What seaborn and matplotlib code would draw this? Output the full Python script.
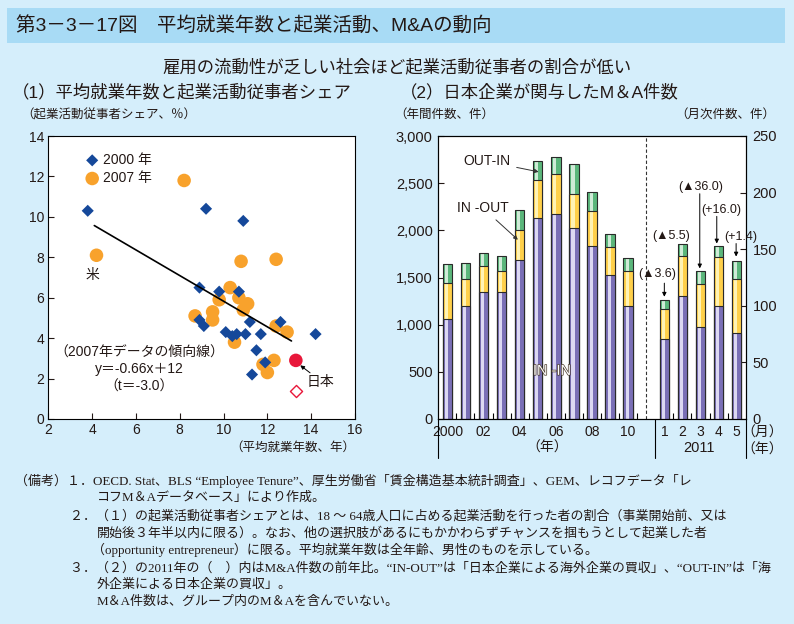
import numpy as np
import matplotlib
matplotlib.use('Agg')
import matplotlib.pyplot as plt
import matplotlib.patheffects as pe
import matplotlib.transforms as mtrans
from matplotlib.patches import Rectangle
from matplotlib.ticker import FuncFormatter
import seaborn as sns

# (1) average tenure (years) vs share of entrepreneurs (%)
tenure_2000 = [3.8, 9.2, 10.9, 8.9, 9.8, 10.7, 8.9, 9.1, 10.1, 10.4, 10.6, 11.0, 11.2, 11.7, 12.6, 14.2, 11.5, 11.9, 11.3]
share_2000 = [10.3, 10.4, 9.8, 6.5, 6.3, 6.3, 4.9, 4.6, 4.3, 4.1, 4.2, 4.2, 4.8, 4.2, 4.8, 4.2, 3.4, 2.8, 2.2]
tenure_2007 = [8.2, 4.2, 10.8, 12.4, 10.3, 9.8, 10.7, 11.1, 10.9, 9.5, 9.5, 8.7, 10.5, 12.4, 12.9, 12.3, 11.8, 12.0]
share_2007 = [11.8, 8.1, 7.8, 7.9, 6.5, 5.9, 6.0, 5.7, 5.4, 5.3, 4.9, 5.1, 3.8, 4.6, 4.3, 2.9, 2.7, 2.3]
japan_tenure = [13.3]
japan_share_2000 = [1.4]
japan_share_2007 = [2.9]
trend_x = [4.1, 13.1]
trend_y = [9.57, 3.86]

# (2) M&A deals involving japanese firms
years = list(range(2000, 2011))
annual_in_in = [1063, 1195, 1347, 1350, 1684, 2128, 2178, 2022, 1832, 1525, 1197]
annual_in_out = [377, 287, 273, 217, 317, 410, 416, 367, 370, 296, 370]
annual_out_in = [201, 170, 138, 163, 216, 194, 180, 311, 202, 138, 138]
months = [1, 2, 3, 4, 5]
monthly_in_in = [71, 109, 81, 100, 76]
monthly_in_out = [26, 35, 38, 43, 48]
monthly_out_in = [8, 11, 12, 10, 16]
monthly_change = ['(▲3.6)', '(▲5.5)', '(▲36.0)', '(+16.0)', '(+1.4)']

notes = [
    (15, 481, '（備考）１．OECD. Stat、BLS “Employee Tenure”、厚生労働省「賃金構造基本統計調査」、GEM、レコフデータ「レ'),
    (97, 498, 'コフM＆Aデータベース」により作成。'),
    (70, 516, '２．（１）の起業活動従事者シェアとは、18 ～ 64歳人口に占める起業活動を行った者の割合（事業開始前、又は'),
    (97, 533, '開始後３年半以内に限る）。なお、他の選択肢があるにもかかわらずチャンスを掴もうとして起業した者'),
    (92, 550, '（opportunity entrepreneur）に限る。平均就業年数は全年齢、男性のものを示している。'),
    (70, 568, '３．（２）の2011年の（　）内はM&A件数の前年比。“IN-OUT”は「日本企業による海外企業の買収」、“OUT-IN”は「海'),
    (97, 585, '外企業による日本企業の買収」。'),
    (97, 602, 'M＆A件数は、グループ内のM＆Aを含んでいない。'),
]

sns.set_theme(style='ticks')
plt.rcParams['font.family'] = ['Liberation Sans', 'Noto Sans CJK JP', 'DejaVu Sans']
ink = '#231815'
bg = '#D5EEFB'

W, H = 794, 624
def fx(px):
    return px / W
def fy(py):
    return 1 - py / H

fig = plt.figure(figsize=(7.94, 6.24), dpi=100, facecolor=bg)

# title band and headings
fig.patches.append(Rectangle((fx(7), fy(43)), fx(778), 35 / H, transform=fig.transFigure,
                             facecolor='#A8DBF5', edgecolor='none', zorder=0))
fig.text(fx(16), fy(25), '第3－3－17図　平均就業年数と起業活動、M&Aの動向', fontsize=14, color=ink, va='center')
fig.text(0.5, fy(67), '雇用の流動性が乏しい社会ほど起業活動従事者の割合が低い', fontsize=12.5, color=ink,
         ha='center', va='center')
fig.text(fx(12), fy(92), '（1）平均就業年数と起業活動従事者シェア', fontsize=12.5, color=ink, va='center')
fig.text(fx(400), fy(92), '（2）日本企業が関与したM＆A件数', fontsize=12.5, color=ink, va='center')

# ---------------- (1) scatter ----------------
ax1 = fig.add_axes([fx(48.3), fy(419), (355 - 48.3) / W, (419 - 136) / H])
ax1.set_facecolor('white')
sns.scatterplot(x=tenure_2007, y=share_2007, marker='o', s=95, color='#F8A22C', edgecolor='none',
                label='2007 年', ax=ax1, zorder=3)
sns.scatterplot(x=tenure_2000, y=share_2000, marker='D', s=38, color='#15489A', edgecolor='none',
                label='2000 年', ax=ax1, zorder=4)
sns.scatterplot(x=japan_tenure, y=japan_share_2007, marker='o', s=95, color='#E8173A', edgecolor='none',
                ax=ax1, zorder=4)
sns.scatterplot(x=japan_tenure, y=japan_share_2000, marker='D', s=38, color='white', edgecolor='#E8173A',
                linewidth=1, ax=ax1, zorder=4)
sns.lineplot(x=trend_x, y=trend_y, color='black', lw=1.2, ax=ax1, zorder=5)

ax1.set_xlim(2, 16)
ax1.set_ylim(0, 14)
ax1.set_xticks(range(2, 17, 2))
ax1.set_yticks(range(0, 15, 2))
ax1.tick_params(direction='in', length=4, width=0.8, labelsize=10, colors=ink, pad=3)
for sp in ax1.spines.values():
    sp.set_color('black')
    sp.set_linewidth(0.8)

h, l = ax1.get_legend_handles_labels()
leg = ax1.legend([h[1], h[0]], [l[1], l[0]], loc='upper left', bbox_to_anchor=(0.125, 0.94),
                 frameon=False, fontsize=10, handlelength=0.8, handletextpad=0.35,
                 labelspacing=0.3, borderpad=0, borderaxespad=0)
for t in leg.get_texts():
    t.set_color(ink)

ax1.text(4.0, 7.1, '米', fontsize=10, color=ink, ha='center', va='center')
ax1.text(6.14, 3.30, '（2007年データの傾向線）', fontsize=10, color=ink, ha='center', va='center')
ax1.text(6.14, 2.46, 'y＝-0.66x＋12', fontsize=10, color=ink, ha='center', va='center')
ax1.text(6.14, 1.60, '（t＝-3.0）', fontsize=10, color=ink, ha='center', va='center')
ax1.annotate('', xy=(13.4, 2.74), xytext=(14.05, 2.2),
             arrowprops=dict(arrowstyle='-|>', color='black', lw=0.7, mutation_scale=6))
ax1.text(14.4, 1.82, '日本', fontsize=10, color=ink, ha='center', va='center')

fig.text(fx(109), fy(115), '（起業活動従事者シェア、％）', fontsize=9, color=ink, ha='center', va='center')
fig.text(fx(293), fy(448), '（平均就業年数、年）', fontsize=9, color=ink, ha='center', va='center')

# ---------------- (2) stacked bars ----------------
ax2 = fig.add_axes([fx(438.3), fy(419), (745.7 - 438.3) / W, (419 - 136) / H])
ax2.set_facecolor('white')
ax2r = ax2.twinx()

purple, purple_l = '#7A6FB6', '#DCD8F2'
yellow, yellow_l = '#FFD04A', '#FFF3B5'
green, green_l = '#5BB67B', '#CFEBD7'


def draw_stack(ax, pos, in_in, in_out, out_in):
    in_in = np.asarray(in_in)
    mid = in_in + np.asarray(in_out)
    top = mid + np.asarray(out_in)
    for h_, face, light in [(top, green, green_l), (mid, yellow, yellow_l), (in_in, purple, purple_l)]:
        sns.barplot(x=pos, y=h_, native_scale=True, width=0.52, color=face, saturation=1,
                    linewidth=0, errorbar=None, ax=ax)
        sns.barplot(x=pos - 0.05, y=h_, native_scale=True, width=0.17, color=light, saturation=1,
                    linewidth=0, errorbar=None, ax=ax)
        sns.barplot(x=pos, y=h_, native_scale=True, width=0.52, color='#2A2A2A', fill=False,
                    linewidth=0.8, errorbar=None, ax=ax)


annual_pos = np.arange(len(years), dtype=float)
month_pos = len(years) + 1 + np.arange(len(months), dtype=float)
draw_stack(ax2, annual_pos, annual_in_in, annual_in_out, annual_out_in)
draw_stack(ax2r, month_pos, monthly_in_in, monthly_in_out, monthly_out_in)

ax2.axvline(len(years), color='#333333', ls=(0, (3, 2)), lw=0.8)

xlim = (-0.5, month_pos[-1] + 0.5)
ax2.set_xlim(*xlim)
ax2r.set_xlim(*xlim)
ax2.set_ylim(0, 3000)
ax2r.set_ylim(0, 250)
ax2.set_yticks(range(0, 3001, 500))
ax2r.set_yticks(range(0, 251, 50))
ax2.yaxis.set_major_formatter(FuncFormatter(lambda v, p: f'{int(v):,}'))
ax2.set_ylabel('')
ax2r.set_ylabel('')
ax2.set_xlabel('')
ax2r.set_xlabel('')

year_ticks = [p for p, y in zip(annual_pos, years) if y % 2 == 0]
year_labels = ['2000' if y == 2000 else f'{y % 100:02d}' for y in years if y % 2 == 0]
ax2.set_xticks(list(year_ticks) + list(month_pos))
ax2.set_xticklabels(year_labels + [str(m) for m in months])
minor = list(annual_pos + 0.5) + list(month_pos[:-1] + 0.5)
ax2.set_xticks(minor, minor=True)
ax2.tick_params(axis='x', which='major', length=0, labelsize=10, colors=ink, pad=4)
ax2.tick_params(axis='x', which='minor', direction='in', length=4, width=0.8, color='black')
ax2.tick_params(axis='y', direction='in', length=4, width=0.8, labelsize=10.5, colors=ink, pad=4)
ax2r.tick_params(axis='y', direction='in', length=4, width=0.8, labelsize=10.5, colors=ink, pad=5)
for a in (ax2, ax2r):
    for sp in a.spines.values():
        sp.set_color('black')
        sp.set_linewidth(0.8)

# lines that run below the axis to split the year and month parts
trans = mtrans.blended_transform_factory(ax2.transData, ax2.transAxes)
for xv in (xlim[0], len(years) + 0.5, xlim[1]):
    ax2.plot([xv, xv], [0, -0.138], transform=trans, clip_on=False, color='black', lw=0.8)

ax2.annotate('OUT-IN', xy=(5.05, 2620), xytext=(2.2, 2730), fontsize=10, color=ink, ha='center', va='center',
             arrowprops=dict(arrowstyle='-|>', color='#333333', lw=0.7, mutation_scale=6, shrinkA=2, shrinkB=0))
ax2.annotate('IN -OUT', xy=(3.9, 1900), xytext=(1.95, 2240), fontsize=10, color=ink, ha='center', va='center',
             arrowprops=dict(arrowstyle='-|>', color='#333333', lw=0.7, mutation_scale=6, shrinkA=2, shrinkB=0))
ax2.text(5.8, 510, 'IN -IN', fontsize=10.5, color='white', ha='center', va='center',
         path_effects=[pe.withStroke(linewidth=1.0, foreground='#4A3A2A')])

label_xy = [(11.6, 128), (12.4, 162), (14.0, 205), (15.16, 185), (16.2, 161)]
arrows = [(12.0, 120, 108), None, (13.96, 199, 133), (14.9, 179, 155), (15.97, 155, 143.5)]
for txt, (tx, ty), ar in zip(monthly_change, label_xy, arrows):
    ax2r.text(tx, ty, txt, fontsize=9, color=ink, ha='center', va='center', clip_on=False)
    if ar is not None:
        ax2r.annotate('', xy=(ar[0], ar[2]), xytext=(ar[0], ar[1]),
                      arrowprops=dict(arrowstyle='-|>', color='black', lw=0.7, mutation_scale=6,
                                      shrinkA=0, shrinkB=0))

fig.text(fx(444), fy(115), '（年間件数、件）', fontsize=9, color=ink, ha='center', va='center')
fig.text(fx(725), fy(115), '（月次件数、件）', fontsize=9, color=ink, ha='center', va='center')
fig.text(fx(547), fy(448), '（年）', fontsize=10, color=ink, ha='center', va='center')
fig.text(fx(699), fy(448), '2011', fontsize=10.5, color=ink, ha='center', va='center')
fig.text(fx(762), fy(433), '（月）', fontsize=10, color=ink, ha='center', va='center')
fig.text(fx(762), fy(450), '（年）', fontsize=10, color=ink, ha='center', va='center')

# notes
for px, py, line in notes:
    fig.text(fx(px), fy(py), line, fontsize=9.35, color=ink, va='center',
             family=['Liberation Serif', 'Noto Sans CJK JP', 'DejaVu Sans'])

fig.savefig('out.png', dpi=100, facecolor=bg)
